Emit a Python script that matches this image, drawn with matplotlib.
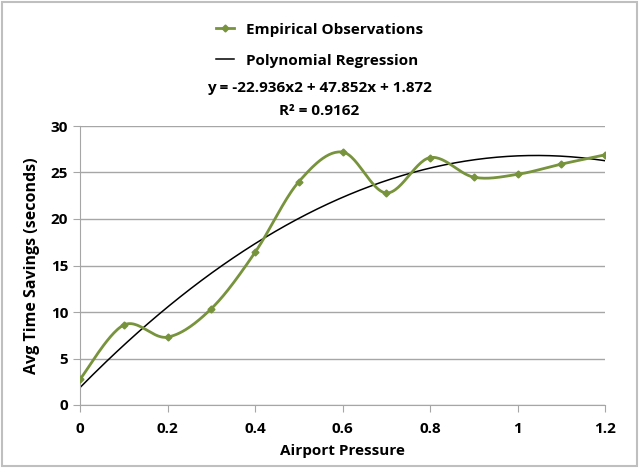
import numpy as np
import matplotlib
matplotlib.use("Agg")
import matplotlib.pyplot as plt
from matplotlib.lines import Line2D
from matplotlib.patches import Rectangle

plt.rcParams['font.family'] = ['Open Sans', 'DejaVu Sans']
plt.rcParams['font.weight'] = 'bold'

# data
pressure = [0, 0.1, 0.2, 0.3, 0.4, 0.5, 0.6, 0.7, 0.8, 0.9, 1.0, 1.1, 1.2]
savings = [2.76, 8.6, 7.3, 10.35, 16.4, 24.0, 27.2, 22.8, 26.6, 24.5, 24.8, 25.9, 26.9]
coef = [-22.936, 47.852, 1.872]
r2 = 0.9162
xticks = [0, 0.2, 0.4, 0.6, 0.8, 1.0, 1.2]
xticklabels = ['0', '0.2', '0.4', '0.6', '0.8', '1', '1.2']
yticks = [0, 5, 10, 15, 20, 25, 30]

green = '#77933c'


def smooth(xs, ys, n=30):
    # excel-like smoothed line: cubic bezier with catmull-rom control points
    xs = np.asarray(xs, float)
    ys = np.asarray(ys, float)
    px, py = [], []
    for i in range(len(xs) - 1):
        i0 = max(i - 1, 0)
        i3 = min(i + 2, len(xs) - 1)
        p0 = np.array([xs[i], ys[i]])
        p3 = np.array([xs[i + 1], ys[i + 1]])
        c1 = p0 + (p3 - np.array([xs[i0], ys[i0]])) / 6
        c2 = p3 - (np.array([xs[i3], ys[i3]]) - p0) / 6
        t = np.linspace(0, 1, n)[:, None]
        pts = (1 - t)**3 * p0 + 3 * (1 - t)**2 * t * c1 + 3 * (1 - t) * t**2 * c2 + t**3 * p3
        px.extend(pts[:, 0])
        py.extend(pts[:, 1])
    return px, py


fig = plt.figure(figsize=(6.39, 4.68), dpi=100)
ax = fig.add_axes([80 / 639, 1 - 405 / 468, 525 / 639, 279 / 468])

sx, sy = smooth(pressure, savings)
ax.plot(sx, sy, color=green, lw=2, zorder=3)
ax.plot(pressure, savings, ls='none', marker='D', ms=3.5, color=green, zorder=4)

xf = np.linspace(0, 1.2, 200)
ax.plot(xf, np.polyval(coef, xf), color='black', lw=1.1, zorder=2)

ax.set_xlim(0, 1.2)
ax.set_ylim(0, 30)
ax.set_xticks(xticks)
ax.set_xticklabels(xticklabels, fontweight='bold')
ax.set_yticks(yticks)
ax.set_yticklabels([str(v) for v in yticks], fontweight='bold')
ax.grid(axis='y', color='#a6a6a6', lw=1)
ax.set_axisbelow(True)
for s in ['top', 'right']:
    ax.spines[s].set_visible(False)
for s in ['left', 'bottom']:
    ax.spines[s].set_color('#a6a6a6')
ax.tick_params(axis='both', colors='#a6a6a6', labelcolor='black', labelsize=11, length=5)
ax.tick_params(axis='x', pad=7)
ax.set_xlabel('Airport Pressure', fontsize=11, fontweight='bold', labelpad=6)
ax.set_ylabel('Avg Time Savings (seconds)', fontsize=11.5, fontweight='bold', labelpad=8)

handles = [Line2D([], [], color=green, lw=2, marker='D', ms=3.5),
           Line2D([], [], color='black', lw=1.1)]
fig.legend(handles, ['Empirical Observations', 'Polynomial Regression'],
           loc='upper center', bbox_to_anchor=(0.5, 1 - 9 / 468), frameon=False,
           prop={'size': 11, 'weight': 'bold'}, handlelength=1.2, labelspacing=1.1)

fig.text(0.5, 1 - 88 / 468,
         'y = %.3fx2 + %.3fx + %.3f' % (coef[0], coef[1], coef[2]),
         ha='center', va='center', fontsize=11, fontweight='bold')
fig.text(0.5, 1 - 111 / 468, 'R² = %.4f' % r2,
         ha='center', va='center', fontsize=11, fontweight='bold')

fig.patches.append(Rectangle((2 / 639, 2 / 468), 635 / 639, 464 / 468,
                             transform=fig.transFigure, fill=False,
                             edgecolor='#bfbfbf', lw=1.5))

fig.savefig('out.png', dpi=100)
